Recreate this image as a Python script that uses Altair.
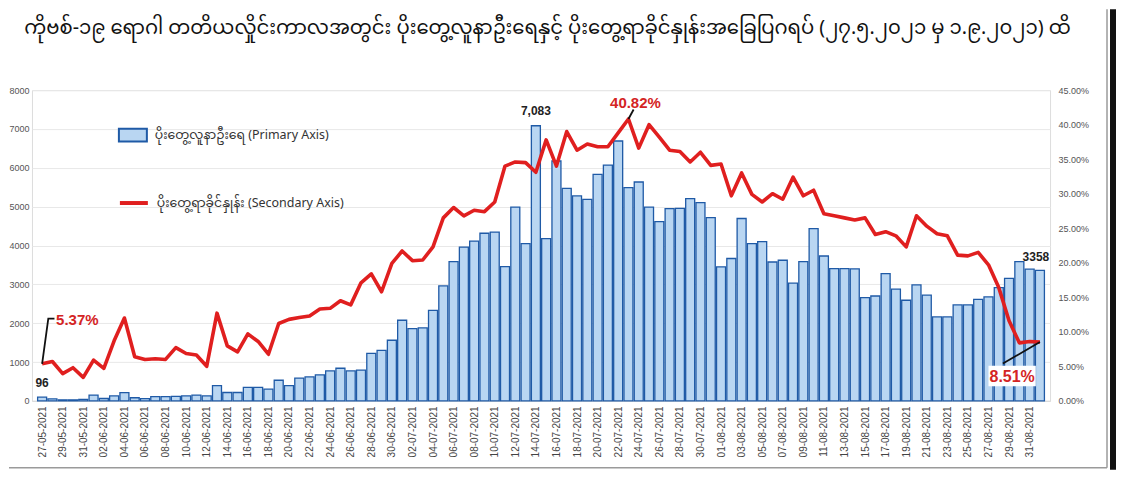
import altair as alt
import pandas as pd

start_date = "2021-05-27"

cases = [96, 50, 25, 25, 40, 150, 60, 130, 210, 80,
         55, 110, 110, 115, 130, 150, 130, 390, 215, 215,
         345, 345, 300, 530, 390, 585, 615, 670, 770, 840,
         770, 790, 1220, 1300, 1560, 2075, 1860, 1880, 2330, 2960,
         3585, 3960, 4115, 4315, 4345, 3455, 4990, 4050, 7083, 4175,
         6175, 5470, 5275, 5190, 5830, 6070, 6690, 5490, 5635, 4990,
         4615, 4950, 4955, 5205, 5105, 4715, 3450, 3665, 4695, 4050,
         4100, 3575, 3620, 3030, 3585, 4435, 3730, 3405, 3405, 3400,
         2660, 2700, 3275, 2875, 2590, 2985, 2720, 2160, 2160, 2470,
         2470, 2615, 2675, 2915, 3155, 3585, 3390, 3358]

rates = [5.37, 5.7, 3.95, 4.8, 3.4, 5.9, 4.7, 8.7, 12.0, 6.4,
         6.0, 6.1, 6.0, 7.7, 6.85, 6.65, 5.0, 12.7, 7.96, 7.1,
         9.7, 8.6, 6.75, 11.2, 11.8, 12.06, 12.3, 13.3, 13.4, 14.5,
         13.9, 17.1, 18.4, 15.8, 19.9, 21.7, 20.3, 20.4, 22.3, 26.5,
         28.0, 26.8, 27.6, 27.4, 28.8, 34.0, 34.6, 34.5, 33.1, 37.8,
         34.0, 39.0, 36.3, 37.2, 36.8, 36.8, 38.8, 40.82, 36.6, 40.0,
         38.2, 36.3, 36.1, 34.6, 36.0, 34.1, 34.3, 29.7, 33.0, 29.9,
         28.8, 30.0, 29.2, 32.4, 29.7, 30.5, 27.1, 26.8, 26.5, 26.2,
         26.5, 24.1, 24.5, 23.9, 22.3, 26.8, 25.3, 24.2, 23.9, 21.1,
         21.0, 21.5, 19.7, 16.4, 11.6, 8.4, 8.6, 8.51]

dates = pd.date_range(start_date, periods=len(cases), freq="D").strftime("%d-%m-%Y").tolist()
days = list(range(len(cases)))
tick_days = days[::2]
left_ticks = list(range(0, 8001, 1000))
right_ticks = list(range(0, 46, 5))

title_text = ("ကိုဗစ်-၁၉ ရောဂါ တတိယလှိုင်းကာလအတွင်း ပိုးတွေ့လူနာဦးရေနှင့် "
              "ပိုးတွေ့ရာခိုင်နှုန်းအခြေပြဂရပ် (၂၇.၅.၂၀၂၁ မှ ၁.၉.၂၀၂၁) ထိ")
legend_cases = "ပိုးတွေ့လူနာဦးရေ (Primary Axis)"
legend_rate = "ပိုးတွေ့ရာခိုင်နှုန်း (Secondary Axis)"

MY_FONT = "Noto Sans Myanmar, Padauk, Myanmar Text, Noto Sans, sans-serif"
NUM_FONT = "Liberation Sans, Arial, sans-serif"
BAR_FILL = "#b9d6f2"
BAR_STROKE = "#1f5aa6"
RED = "#e01f1f"
LABEL_RED = "#d42424"

W, H = 1019, 311

df = pd.DataFrame({"day": days, "date": dates, "cases": cases, "rate": rates,
                   "s_cases": legend_cases, "s_rate": legend_rate})

date_expr = "[" + ",".join(f"'{d}'" for d in dates) + "][datum.value]"

x_scale = alt.Scale(domain=[-0.5, len(days) - 0.5], nice=False, zero=False)
x_axis = alt.Axis(values=tick_days, labelExpr=date_expr, labelAngle=270,
                  ticks=False, grid=False, domain=True, domainColor="#d9d9d9",
                  labelFontSize=10, labelColor="#444", labelFont=NUM_FONT,
                  labelPadding=5, title=None, labelOverlap=False)
x_enc = alt.X("day:Q", scale=x_scale, axis=x_axis)
x2_enc = alt.X2("day2:Q")

y_cases_scale = alt.Scale(domain=[0, 8000], nice=False, zero=True)
y_cases_axis = alt.Axis(values=left_ticks, orient="left", grid=True, gridColor="#e8e8e8",
                        ticks=False, domain=False, labelFontSize=9, labelColor="#555",
                        labelFont=NUM_FONT, labelPadding=3, title=None, format="d")
y_cases = alt.Y("cases:Q", scale=y_cases_scale, axis=y_cases_axis)

y_rate_scale = alt.Scale(domain=[0, 45], nice=False, zero=True)
y_rate_axis = alt.Axis(values=right_ticks, orient="right", grid=False, ticks=False,
                       domain=False, labelFontSize=9, labelColor="#555",
                       labelFont=NUM_FONT, labelPadding=8, title=None,
                       labelExpr="format(datum.value, '.2f') + '%'")
y_rate = alt.Y("rate:Q", scale=y_rate_scale, axis=y_rate_axis)

bars = alt.Chart(df).mark_bar(size=9, stroke=BAR_STROKE, strokeWidth=1.3).encode(
    x=x_enc,
    y=y_cases,
    fill=alt.Fill("s_cases:N", scale=alt.Scale(range=[BAR_FILL]),
                  legend=alt.Legend(title=None, orient="none", legendX=86, legendY=30,
                                    symbolType="M-1,-0.45L1,-0.45L1,0.45L-1,0.45Z",
                                    symbolSize=784, symbolStrokeColor=BAR_STROKE,
                                    symbolStrokeWidth=2, symbolFillColor=BAR_FILL,
                                    labelFontSize=12.5, labelColor="#333", labelFont=MY_FONT,
                                    labelOffset=7, padding=0, labelLimit=400)),
)

def case_label(i, text, dy, dx=0):
    d = pd.DataFrame({"day": [days[i]], "cases": [cases[i]], "label": [text]})
    return alt.Chart(d).mark_text(fontSize=12, fontWeight="bold", color="#222",
                                  font=NUM_FONT, dy=dy, dx=dx, baseline="middle").encode(
        x=x_enc, y=y_cases, text="label:N")

left_layer = alt.layer(
    bars,
    case_label(0, f"{cases[0]}", -14),
    case_label(48, f"{cases[48]:,}", -15),
    case_label(97, f"{cases[97]}", -13, -4),
)

line = alt.Chart(df).mark_line(strokeWidth=3.6, strokeJoin="round").encode(
    x=x_enc,
    y=y_rate,
    stroke=alt.Stroke("s_rate:N", scale=alt.Scale(range=[RED]),
                      legend=alt.Legend(title=None, orient="none", legendX=86, legendY=97,
                                        symbolType="stroke", symbolSize=784,
                                        symbolStrokeWidth=4, labelFontSize=12.5,
                                        labelColor="#333", labelFont=MY_FONT,
                                        labelOffset=7, padding=0, labelLimit=400)),
)

# leader lines (annotation connectors), in data space
leaders = pd.DataFrame({
    "grp": [1, 1, 1, 2, 2, 3, 3],
    "seq": [0, 1, 2, 0, 1, 0, 1],
    "day": [0, 0.6, 1.2, 57, 57.5, 93.4, 97],
    "rate": [rates[0], 11.9, 11.9, rates[57], 42.2, 5.4, rates[97]],
})
leader_lines = alt.Chart(leaders).mark_line(color="#111", strokeWidth=1.8).encode(
    x=x_enc, y=y_rate, detail="grp:N", order="seq:Q")

box = pd.DataFrame({"day": [92.0], "day2": [96.6], "rate": [2.1], "rate2": [5.1]})
label_box = alt.Chart(box).mark_rect(color="white").encode(
    x=x_enc, x2=x2_enc, y=y_rate, y2=alt.Y2("rate2:Q"))

def rate_label(day, rate, text, dx, dy, align="center", size=15):
    d = pd.DataFrame({"day": [day], "rate": [rate], "label": [text]})
    return alt.Chart(d).mark_text(fontSize=size, fontWeight="bold", color=LABEL_RED,
                                  font=NUM_FONT, dx=dx, dy=dy, align=align,
                                  baseline="middle").encode(
        x=x_enc, y=y_rate, text="label:N")

right_layer = alt.layer(
    line,
    leader_lines,
    label_box,
    rate_label(0, rates[0], f"{rates[0]:.2f}%", 14, -44, align="left"),
    rate_label(57, rates[57], f"{rates[57]:.2f}%", 7, -16),
    rate_label(94.3, 3.5, f"{rates[97]:.2f}%", 0, 0, size=16),
)

one = pd.DataFrame({"a": [0]})
frame_black = alt.Chart(one).mark_rect(color="#111").encode(
    x=alt.value(1079), x2=alt.value(1085), y=alt.value(-81), y2=alt.value(380))
frame_right = alt.Chart(one).mark_rule(color="#9a9a9a", strokeWidth=1.5).encode(
    x=alt.value(1076), y=alt.value(-81), y2=alt.value(378))
frame_bottom = alt.Chart(one).mark_rule(color="#9a9a9a", strokeWidth=1.5).encode(
    x=alt.value(-23), x2=alt.value(1076), y=alt.value(378))
title_mark = alt.Chart(one).mark_text(fontSize=19.6, font=MY_FONT, color="#111",
                                      align="center", baseline="middle").encode(
    x=alt.value(516), y=alt.value(-62), text=alt.value(title_text))

chart = alt.layer(left_layer, right_layer, frame_black, frame_right, frame_bottom,
                  title_mark).resolve_scale(
    y="independent", fill="independent", stroke="independent"
).properties(width=W, height=H, padding=0).configure_view(strokeWidth=0).configure(
    background="white")

chart.save("out.html", embed_options={"renderer": "svg", "actions": False})
